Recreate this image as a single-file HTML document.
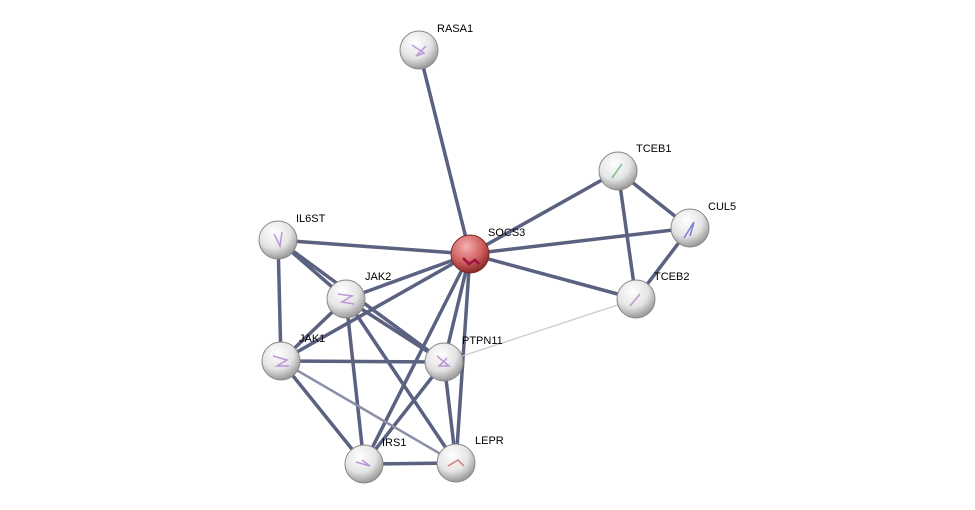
<!DOCTYPE html>
<html><head><style>body{margin:0;background:#fff}svg{display:block}text{font-family:"Liberation Sans",sans-serif;font-size:11px;fill:#000}</style></head><body>
<svg width="975" height="510" viewBox="0 0 975 510">
<defs>
<radialGradient id="g" cx="40%" cy="30%" r="70%"><stop offset="0" stop-color="#fff"/><stop offset="0.6" stop-color="#e4e4e4"/><stop offset="1" stop-color="#9a9a9a"/></radialGradient>
<radialGradient id="r" cx="40%" cy="30%" r="70%"><stop offset="0" stop-color="#f4b0b0"/><stop offset="0.6" stop-color="#d06060"/><stop offset="1" stop-color="#8a2a2a"/></radialGradient>
</defs>
<g stroke="#5b6180" stroke-width="3.5" stroke-linecap="round">
<line x1="419" y1="50" x2="470" y2="254"/>
<line x1="470" y1="254" x2="618" y2="171"/>
<line x1="470" y1="254" x2="690" y2="228"/>
<line x1="470" y1="254" x2="636" y2="299"/>
<line x1="618" y1="171" x2="690" y2="228"/>
<line x1="618" y1="171" x2="636" y2="299"/>
<line x1="690" y1="228" x2="636" y2="299"/>
<line x1="278" y1="240" x2="470" y2="254"/>
<line x1="346" y1="299" x2="470" y2="254"/>
<line x1="281" y1="361" x2="470" y2="254"/>
<line x1="444" y1="362" x2="470" y2="254"/>
<line x1="364" y1="464" x2="470" y2="254"/>
<line x1="456" y1="463" x2="470" y2="254"/>
<line x1="278" y1="240" x2="346" y2="299"/>
<line x1="278" y1="240" x2="444" y2="362"/>
<line x1="278" y1="240" x2="281" y2="361"/>
<line x1="346" y1="299" x2="281" y2="361"/>
<line x1="346" y1="299" x2="444" y2="362"/>
<line x1="346" y1="299" x2="364" y2="464"/>
<line x1="346" y1="299" x2="456" y2="463"/>
<line x1="281" y1="361" x2="444" y2="362"/>
<line x1="281" y1="361" x2="364" y2="464"/>
<line x1="444" y1="362" x2="364" y2="464"/>
<line x1="444" y1="362" x2="456" y2="463"/>
<line x1="364" y1="464" x2="456" y2="463"/>
</g>
<line x1="281" y1="361" x2="456" y2="463" stroke="#8a90a8" stroke-width="2.5"/>
<line x1="444" y1="362" x2="636" y2="299" stroke="#c8c8d0" stroke-width="1.3"/>
<g stroke="#888" stroke-width="1">
<circle cx="419" cy="50" r="19" fill="url(#g)"/>
<circle cx="618" cy="171" r="19" fill="url(#g)"/>
<circle cx="690" cy="228" r="19" fill="url(#g)"/>
<circle cx="636" cy="299" r="19" fill="url(#g)"/>
<circle cx="278" cy="240" r="19" fill="url(#g)"/>
<circle cx="346" cy="299" r="19" fill="url(#g)"/>
<circle cx="281" cy="361" r="19" fill="url(#g)"/>
<circle cx="444" cy="362" r="19" fill="url(#g)"/>
<circle cx="364" cy="464" r="19" fill="url(#g)"/>
<circle cx="456" cy="463" r="19" fill="url(#g)"/>
<circle cx="470" cy="254" r="19" fill="url(#r)" stroke="#7a2a2a"/>
</g>
<g fill="none" stroke="#b080d0" stroke-width="1.5" opacity="0.8">
<path d="M412 45 l12 8 -8 3 10 -10"/><path d="M274 234 l6 12 2 -14"/><path d="M338 294 l14 2 -10 6 12 2"/>
<path d="M273 356 l14 4 -10 6 12 0"/><path d="M437 356 l12 10 -10 0 8 -8"/><path d="M356 462 l14 4 -8 -6"/>
<path d="M684 238 l10 -16 -4 14" stroke="#6060d0"/><path d="M612 178 l10 -14" stroke="#50b070"/><path d="M630 306 l10 -12"/>
<path d="M448 466 l10 -6 6 6" stroke="#d06060"/>
</g>
<path d="M463 258 l6 6 6 -4 4 4" fill="none" stroke="#a01040" stroke-width="2.5"/>
<text x="437" y="32">RASA1</text>
<text x="636" y="152">TCEB1</text>
<text x="708" y="210">CUL5</text>
<text x="488" y="236">SOCS3</text>
<text x="296" y="222">IL6ST</text>
<text x="365" y="280">JAK2</text>
<text x="654" y="280">TCEB2</text>
<text x="299" y="342">JAK1</text>
<text x="462" y="344">PTPN11</text>
<text x="382" y="446">IRS1</text>
<text x="475" y="444">LEPR</text>
</svg>
</body></html>
